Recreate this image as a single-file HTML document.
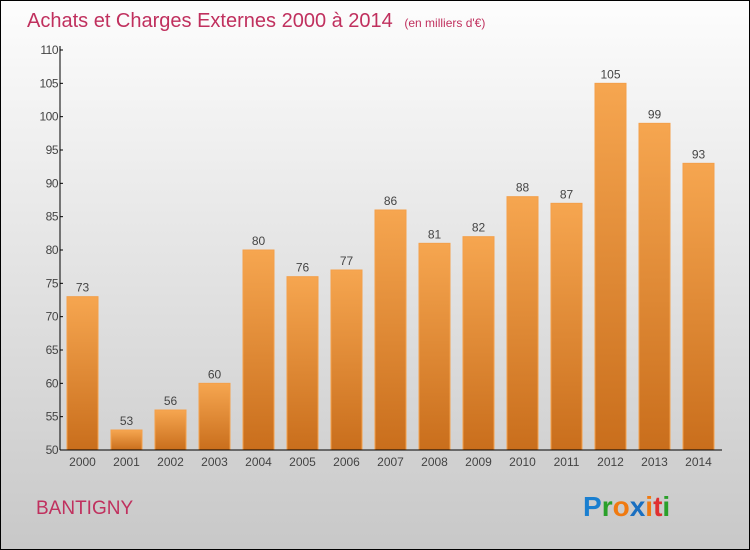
<!DOCTYPE html>
<html><head><meta charset="utf-8"><style>
body{margin:0;width:750px;height:550px;overflow:hidden}
svg{display:block;font-family:"Liberation Sans",sans-serif}
</style></head><body>
<svg width="750" height="550">
<defs>
<linearGradient id="bg" x1="0" y1="0" x2="0" y2="1"><stop offset="0" stop-color="#fdfdfd"/><stop offset="1" stop-color="#c8c8c8"/></linearGradient>
<linearGradient id="bar" x1="0" y1="0" x2="0" y2="1"><stop offset="0" stop-color="#f6a650"/><stop offset="1" stop-color="#c96e1c"/></linearGradient>
</defs>
<rect x="0.5" y="0.5" width="749" height="549" fill="url(#bg)" stroke="#000"/>
<text x="27" y="27" font-size="20" fill="#c0305e">Achats et Charges Externes 2000 à 2014 <tspan font-size="12" dx="6">(en milliers d'€)</tspan></text>
<g id="bars"></g>
<g id="axes"></g>
<text x="36" y="514" font-size="19" fill="#c0305e">BANTIGNY</text>
<text x="583" y="516" font-size="28" font-weight="bold"><tspan fill="#1a7fd0">P</tspan><tspan fill="#2aa02a">r</tspan><tspan fill="#f07a10">o</tspan><tspan fill="#1a6fc0">x</tspan><tspan fill="#f07a10">i</tspan><tspan fill="#e03030">t</tspan><tspan fill="#2aa02a">i</tspan></text>
</svg>
<script>
const categories=["2000","2001","2002","2003","2004","2005","2006","2007","2008","2009","2010","2011","2012","2013","2014"];
const values=[73,53,56,60,80,76,77,86,81,82,88,87,105,99,93];
const yTicks=[50,55,60,65,70,75,80,85,90,95,100,105,110];
const NS="http://www.w3.org/2000/svg";
const x0=60,x1=720,y0=450,y1=50,yMin=50,yMax=110;
const band=(x1-x0)/categories.length;
const y=v=>y0-(v-yMin)/(yMax-yMin)*(y0-y1);
const xs=i=>x0+i*band;
function mk(t,a,p){const e=document.createElementNS(NS,t);for(const k in a)e.setAttribute(k,a[k]);p.appendChild(e);return e;}
const gb=document.getElementById('bars'),ga=document.getElementById('axes');
values.forEach((v,i)=>{
 const r=mk('rect',{x:xs(i)+7,y:y(v),width:31,height:y0-y(v),fill:'url(#bar)',stroke:'#f4a04a','stroke-width':1},gb);
 
 
 const t=mk('text',{x:xs(i)+22.5,y:y(v)-5,'text-anchor':'middle','font-size':12,fill:'#444'},gb);
 t.textContent=v;
 
 
 const c=mk('text',{x:xs(i)+22.5,y:466,'text-anchor':'middle','font-size':12,fill:'#444'},ga);
 c.textContent=categories[i];
 
 
});
mk('line',{x1:x0,y1:y1-4,x2:x0,y2:y0,stroke:'#000'},ga);
mk('line',{x1:x0,y1:y0,x2:x1+2,y2:y0,stroke:'#000'},ga);
yTicks.forEach(v=>{
 mk('line',{x1:x0,y1:y(v),x2:x0+3,y2:y(v),stroke:'#000'},ga);
 const t=mk('text',{x:x0-2,y:y(v)+4,'text-anchor':'end','font-size':12,fill:'#444','letter-spacing':'-0.5'},ga);
 t.textContent=v;
 
 
});
</script>
</body></html>
